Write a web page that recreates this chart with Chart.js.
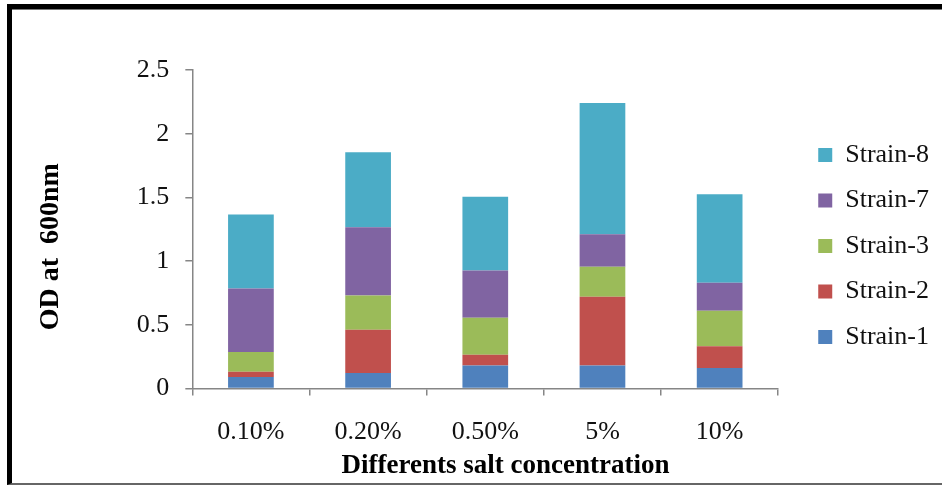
<!DOCTYPE html>
<html>
<head>
<meta charset="utf-8">
<script src="https://cdn.jsdelivr.net/npm/chart.js@4/dist/chart.umd.min.js"></script>
<style>
  html, body { margin: 0; padding: 0; background: #fff; }
  #wrap { position: relative; width: 942px; height: 486px; overflow: hidden; }
  #frame {
    position: absolute; left: 7px; top: 4px; width: 960px; height: 474px;
    border-left: 5px solid #000; border-top: 5px solid #000; border-bottom: 2px solid #666;
    box-shadow: inset 0 1px 0 #777; pointer-events: none;
  }
  canvas { position: absolute; left: 0; top: 0; }
</style>
</head>
<body>
<div id="wrap">
  <canvas id="chart" width="942" height="486"></canvas>
  <div id="frame"></div>
</div>
<script>
const categories = ['0.10%', '0.20%', '0.50%', '5%', '10%'];
const strain1 = [0.09, 0.12, 0.18, 0.18, 0.16];
const strain2 = [0.04, 0.34, 0.085, 0.54, 0.17];
const strain3 = [0.155, 0.27, 0.29, 0.235, 0.28];
const strain7 = [0.50, 0.535, 0.37, 0.255, 0.22];
const strain8 = [0.58, 0.59, 0.58, 1.03, 0.695];
const yTicks = [0, 0.5, 1, 1.5, 2, 2.5];

const serif = 'Liberation Serif';
const axisGray = '#868686';

const ctx = document.getElementById('chart').getContext('2d');

new Chart(ctx, {
  type: 'bar',
  data: {
    labels: categories,
    datasets: [
      { label: 'Strain-1', data: strain1, backgroundColor: '#4F81BD' },
      { label: 'Strain-2', data: strain2, backgroundColor: '#C0504D' },
      { label: 'Strain-3', data: strain3, backgroundColor: '#9BBB59' },
      { label: 'Strain-7', data: strain7, backgroundColor: '#8064A2' },
      { label: 'Strain-8', data: strain8, backgroundColor: '#4BACC6' },
    ],
  },
  options: {
    responsive: false,
    animation: false,
    layout: { padding: { left: 43, right: 3, top: 70, bottom: 4 } },
    datasets: { bar: { categoryPercentage: 1, barPercentage: 0.39, borderWidth: 0 } },
    plugins: {
      tooltip: { enabled: false },
      legend: {
        position: 'right',
        fullSize: false,
        reverse: true,
        title: { display: true, text: ' ', font: { size: 12 }, padding: { top: 9, bottom: 10 } },
        labels: {
          boxWidth: 14,
          boxHeight: 14,
          padding: 19.5,
          color: '#111',
          font: { family: serif, size: 26 },
        },
      },
    },
    scales: {
      x: {
        stacked: true,
        border: { color: axisGray, width: 1.5 },
        grid: { drawOnChartArea: false, color: axisGray, tickLength: 7, lineWidth: 1.5 },
        ticks: { color: '#111', padding: 21, font: { family: serif, size: 26 } },
        title: {
          display: true,
          text: '      Differents salt concentration',
          color: '#000',
          padding: { top: -19, bottom: 0 },
          font: { family: serif, size: 27, weight: 'bold' },
        },
      },
      y: {
        stacked: true,
        min: 0,
        max: 2.5,
        afterBuildTicks: (scale) => { scale.ticks = yTicks.map((v) => ({ value: v })); },
        border: { color: axisGray, width: 1.5 },
        grid: { drawOnChartArea: false, color: axisGray, tickLength: 7, lineWidth: 1.5 },
        ticks: {
          color: '#111',
          padding: 16,
          font: { family: serif, size: 26 },
          callback: (v) => String(v),
        },
        title: {
          display: true,
          text: 'OD at  600nm     ',
          color: '#000',
          padding: { top: -8.8, bottom: 68.7 },
          font: { family: serif, size: 28, weight: 'bold' },
        },
      },
      // empty spacer between the plot and the legend
      gap: {
        position: 'right',
        display: true,
        grid: { display: false },
        border: { display: false },
        ticks: { display: false },
        afterFit: (scale) => { scale.width = 20.5; },
      },
    },
  },
});
</script>
</body>
</html>
